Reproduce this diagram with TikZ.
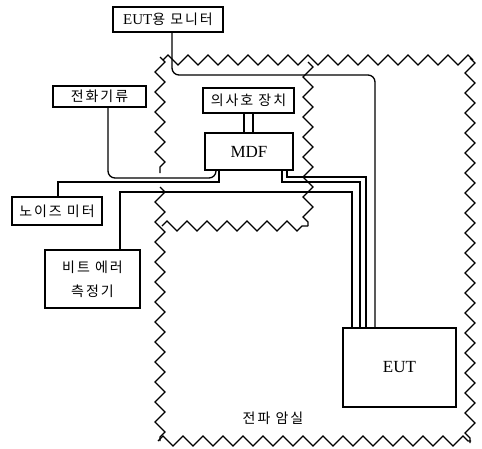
\documentclass[tikz,border=0pt]{standalone}
\usepackage{fontspec}
\setmainfont{Liberation Serif}
\newfontfamily\kr[LetterSpace=14]{Noto Sans CJK KR}
\usetikzlibrary{decorations.pathmorphing}
\begin{document}
\begin{tikzpicture}[x=1pt,y=-1pt,
  box/.style={draw, line width=1.3pt, inner sep=0pt, align=center, font=\kr\fontsize{14}{24}\selectfont},
  latin/.style={font=\rmfamily\fontsize{17}{18}\selectfont},
  cable/.style={line width=1.3pt},
  zig/.style={decorate, decoration={zigzag, segment length=20pt, amplitude=5pt}, line width=1.3pt}]
\useasboundingbox[fill=white] (0,0) rectangle (482,448);

% boxes
\node[box, minimum width=110pt, minimum height=25pt] (mon) at (168,19.5) {{\rmfamily\fontsize{15}{16}\selectfont EUT}용 모니터};
\node[box, minimum width=93pt, minimum height=21pt] (tel) at (99.5,96.5) {전화기류};
\node[box, minimum width=91pt, minimum height=25pt] (pse) at (248.5,100.5) {의사호 장치};
\node[box, latin, minimum width=88pt, minimum height=37pt] (mdf) at (249,151.5) {MDF};
\node[box, minimum width=90pt, minimum height=28pt] (noi) at (57,211) {노이즈 미터};
\node[box, minimum width=95pt, minimum height=58pt] (ber) at (92.5,279) {비트 에러\\측정기};
\node[box, latin, minimum width=113pt, minimum height=79pt] (eut) at (399.5,367.5) {EUT};
\node[font=\kr\fontsize{14}{16}\selectfont] (room) at (273,418) {전파 암실};

% zigzag walls
\draw[zig] (163,60) -- (473,60);
\draw[zig] (470,58) -- (470,443);
\draw[zig] (158,441) -- (471,441);
\draw[zig] (160,57) -- (160,173);
\draw[zig] (160,187) -- (160,441);
\draw[zig] (308,62) -- (308,226);
\draw[zig] (162,226) -- (308,226);

% coordinates
\coordinate (mx) at (172,75);
\coordinate (mr) at (375,75);
\coordinate (tx) at (108,178);
\coordinate (tm) at (216,178);
\coordinate (nx) at (58,182);
\coordinate (nm) at (219,182);
\coordinate (bx) at (120,192);
\coordinate (be) at (352,192);
\coordinate (r1m) at (282,182);
\coordinate (r1e) at (360,182);
\coordinate (r2m) at (287,177);
\coordinate (r2e) at (366,177);
\coordinate (p1) at (244,0);
\coordinate (p2) at (253,0);

% cables
\draw[cable] (mon.south -| mx) [rounded corners=7pt]-- (mx) -- (mr) [sharp corners]-- (eut.north -| mr);
\draw[cable] (tel.south -| tx) [rounded corners=7pt]-- (tx) -- (tm) [sharp corners]-- (mdf.south -| tm);
\draw[cable] (noi.north -| nx) -- (nx) -- (nm) -- (mdf.south -| nm);
\draw[cable] (ber.north -| bx) -- (bx) -- (be) -- (eut.north -| be);
\draw[cable] (mdf.south -| r1m) -- (r1m) -- (r1e) -- (eut.north -| r1e);
\draw[cable] (mdf.south -| r2m) -- (r2m) -- (r2e) -- (eut.north -| r2e);
\draw[cable] (pse.south -| p1) -- (mdf.north -| p1);
\draw[cable] (pse.south -| p2) -- (mdf.north -| p2);
\end{tikzpicture}
\end{document}
